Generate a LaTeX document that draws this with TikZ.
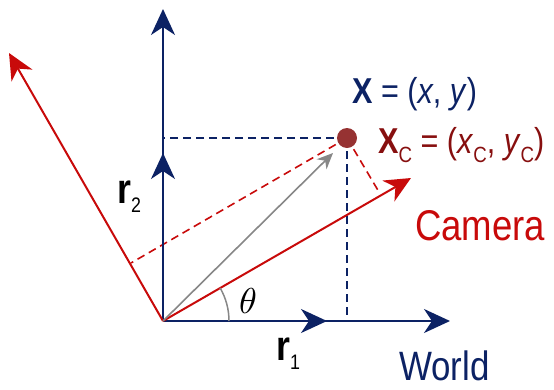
\documentclass[tikz,border=0pt]{standalone}
\usepackage{fontspec}
\setmainfont{Liberation Sans}[FakeStretch=0.85]
\usetikzlibrary{arrows.meta}
\definecolor{navy}{RGB}{12,34,100}
\definecolor{camred}{RGB}{200,10,10}
\definecolor{ptred}{RGB}{150,50,50}
\definecolor{xcred}{RGB}{135,15,15}
\definecolor{arrgray}{RGB}{135,135,135}
\tikzset{
  axis/.style={line width=2pt, -{Stealth[length=26pt,width=24pt,inset=8pt]}},
  waxis/.style={axis, draw=navy},
  caxis/.style={axis, draw=camred},
  bdash/.style={draw=navy, line width=1.6pt, dash pattern=on 8pt off 5pt},
  rdash/.style={draw=camred, line width=1.6pt, dash pattern=on 8pt off 5pt},
  lbl/.style={inner sep=0pt, anchor=base west},
}
\begin{document}
\begin{tikzpicture}[x=1pt,y=-1pt]
\useasboundingbox (0,0) rectangle (554,389);
\coordinate (O) at (163,321);
\coordinate (xw) at (450,321);
\coordinate (yw) at (163,9);
\coordinate (r1) at (327,321);
\coordinate (r2) at (163,153);
\coordinate (xc) at (411,178);
\coordinate (yc) at (9,53);
\coordinate (X) at (347,138);
\coordinate (fx) at (347,321);
\coordinate (fy) at (163,138);
\coordinate (fcx) at (379,192);
\coordinate (fcy) at (131,263);
\coordinate (g) at (333,153);
\coordinate (a0) at (229,321);
% dashed projections
\draw[bdash] (X) -- (fy);
\draw[bdash] (X) -- (fx);
\draw[rdash] (X) -- (fcx);
\draw[rdash] (X) -- (fcy);
% world axes
\draw[waxis] (O) -- (xw);
\draw[waxis] (O) -- (yw);
\draw[waxis] (O) -- (r1);
\draw[waxis] (O) -- (r2);
% camera axes
\draw[caxis] (O) -- (xc);
\draw[caxis] (O) -- (yc);
% gray vector
\draw[draw=arrgray, line width=1.6pt, -{Stealth[length=16pt,width=14pt,inset=5pt]}] (O) -- (g);
% angle
\draw[draw=arrgray, line width=1.5pt] (a0) arc[start angle=0, end angle=-30, radius=66];
\node[inner sep=0pt] (th) at (248,301) {\scalebox{3.6}{$\theta$}};
% point
\fill[ptred] (X) circle[radius=10];
% labels
\node[lbl, text=navy] (lX) at (352,103) {\fontsize{36}{40}\selectfont\textbf{X} = (\textit{x}, \textit{y})};
\node[lbl, text=xcred] (lXc) at (378,153) {\fontsize{36}{40}\selectfont\textbf{X}\raisebox{-9pt}{\fontsize{22}{22}\selectfont C} = (\textit{x}\raisebox{-9pt}{\fontsize{22}{22}\selectfont C}, \textit{y}\raisebox{-9pt}{\fontsize{22}{22}\selectfont C})};
\node[lbl, text=camred] (lcam) at (415,240) {\fontsize{43}{46}\selectfont Camera};
\node[lbl, text=navy, text depth=0pt] (lworld) at (399,380) {\fontsize{41}{45}\selectfont World};
\node[lbl] (lr2) at (117,203) {\fontsize{42}{46}\selectfont\textbf{r}\raisebox{-9pt}{\fontsize{21}{21}\selectfont 2}};
\node[lbl] (lr1) at (276,360) {\fontsize{42}{46}\selectfont\textbf{r}\raisebox{-9pt}{\fontsize{21}{21}\selectfont 1}};
\end{tikzpicture}
\end{document}
